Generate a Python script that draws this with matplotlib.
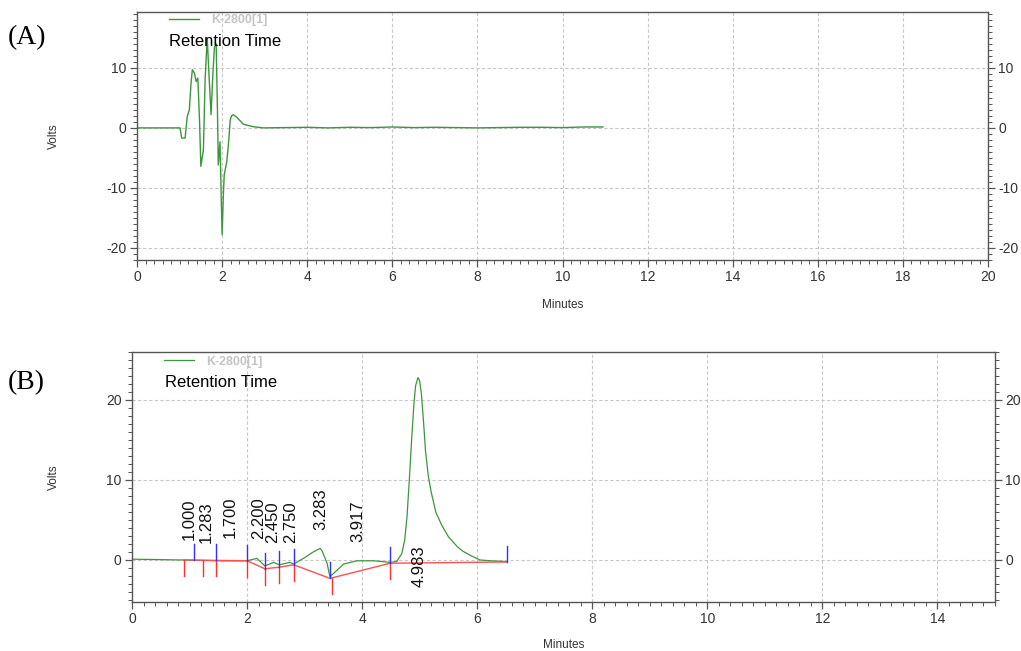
import numpy as np
import matplotlib
matplotlib.use('Agg')
import matplotlib.pyplot as plt
from matplotlib.ticker import MultipleLocator

# panel A trace (minutes, volts)
a_time = [0.0, 1.01, 1.05, 1.13, 1.18, 1.23, 1.27, 1.30, 1.35, 1.39, 1.43, 1.47,
          1.50, 1.56, 1.60, 1.65, 1.69, 1.74, 1.78, 1.82, 1.86, 1.89, 1.91, 1.95,
          1.98, 2.0, 2.03, 2.05, 2.08, 2.11, 2.15, 2.19, 2.22, 2.26, 2.34, 2.5,
          2.73, 2.97, 3.5, 4.0, 4.5, 5.0, 5.5, 6.0, 6.5, 7.0, 7.5, 8.0, 8.5, 9.0,
          9.5, 10.0, 10.5, 10.95]
a_volts = [0.0, 0.0, -1.7, -1.7, 1.9, 3.0, 7.5, 9.7, 9.1, 7.7, 8.3, 1.0,
           -6.4, -3.7, 8.0, 15.0, 9.0, 2.2, 8.6, 13.5, 14.0, 3.0, -6.2, -2.3,
           -12.0, -17.8, -11.0, -7.8, -6.7, -5.6, -2.6, 1.3, 2.0, 2.2, 1.8, 0.6,
           0.2, 0.0, 0.05, 0.1, 0.0, 0.1, 0.05, 0.15, 0.05, 0.1, 0.05, 0.0, 0.05,
           0.1, 0.1, 0.05, 0.15, 0.15]

# panel B trace
b_time = [0.0, 0.89, 1.5, 2.0, 2.17, 2.23, 2.31, 2.46, 2.56, 2.74, 2.81, 2.98,
          3.15, 3.27, 3.30, 3.39, 3.44, 3.53, 3.68, 3.91, 4.2, 4.49, 4.6, 4.69,
          4.74, 4.78, 4.82, 4.86, 4.90, 4.93, 4.97, 5.0, 5.03, 5.07, 5.10, 5.15,
          5.20, 5.28, 5.38, 5.50, 5.65, 5.75, 5.90, 6.05, 6.23, 6.52]
b_volts = [0.1, 0.0, -0.1, -0.1, 0.2, -0.2, -0.75, -0.3, -0.6, -0.3, -0.5, 0.2,
           1.0, 1.45, 1.2, -0.4, -2.1, -1.5, -0.5, -0.1, -0.1, -0.3, -0.2, 0.8,
           2.5, 5.4, 10.0, 15.0, 19.5, 21.8, 22.8, 22.4, 20.8, 17.0, 13.75, 10.5,
           8.5, 6.0, 4.4, 2.9, 1.7, 1.1, 0.5, 0.0, -0.1, -0.2]

# integration baseline
base_time = [0.90, 2.0, 2.31, 2.56, 2.81, 3.44, 4.49, 6.52]
base_volts = [0.0, -0.1, -1.1, -0.9, -0.6, -2.3, -0.4, -0.25]

# peak start (red) / end (blue) event marks
start_marks = [0.90, 1.23, 1.46, 2.0, 2.31, 2.56, 2.81, 3.47, 4.49]
end_marks = [1.08, 1.46, 2.0, 2.31, 2.56, 2.81, 3.44, 4.49, 6.52]

# retention time labels
rt_labels = ['1.000', '1.283', '1.700', '2.200', '2.450', '2.750', '3.283', '3.917', '4.983']
rt_label_y = [2.5, 2.1, 2.7, 2.6, 2.1, 2.1, 3.75, 2.2, -3.4]

green = '#3c963c'
tick_col = '#333333'
plt.rcParams['font.family'] = ['Liberation Sans', 'DejaVu Sans']
plt.rcParams['axes.unicode_minus'] = False

fig = plt.figure(figsize=(10.21, 6.51), dpi=100)
axA = fig.add_axes([0.1342, 0.6006, 0.8335, 0.381])
axB = fig.add_axes([0.1293, 0.0753, 0.8452, 0.384])


def style(ax, xmax, ylim, xmaj, ymaj, labelx, labely):
    ax.set_xlim(0, xmax)
    ax.set_ylim(*ylim)
    ax.xaxis.set_major_locator(MultipleLocator(xmaj))
    ax.xaxis.set_minor_locator(MultipleLocator(0.2))
    ax.yaxis.set_major_locator(MultipleLocator(ymaj))
    ax.yaxis.set_minor_locator(MultipleLocator(1))
    ax.tick_params(axis='both', which='both', direction='out', colors='#555555',
                   labelcolor=tick_col, labelsize=10, pad=2.5)
    ax.tick_params(axis='y', which='both', right=True, labelright=True)
    ax.tick_params(which='major', length=5, width=0.9)
    ax.tick_params(which='minor', length=3, width=0.7)
    ax.grid(True, which='major', linestyle=(0, (3, 2)), color='#c8c8c8', linewidth=0.8)
    for s in ax.spines.values():
        s.set_color('#555555')
        s.set_linewidth(1.0)
    ax.set_xlabel('Minutes', fontsize=8.5, color=tick_col)
    ax.set_ylabel('Volts', fontsize=8.5, color=tick_col)
    ax.xaxis.set_label_coords(0.5, labely)
    ax.yaxis.set_label_coords(labelx, 0.5)


style(axA, 20, (-22, 19.3), 2, 10, -0.09, -0.157)
style(axB, 15, (-5.25, 26), 2, 10, -0.083, -0.15)

# panel A
lnA, = axA.plot(a_time, a_volts, color=green, lw=1.0, label='K-2800[1]')
axA.legend(handles=[lnA], loc='upper left', bbox_to_anchor=(0.037, 0.99),
           frameon=False, borderaxespad=0, borderpad=0, handlelength=2.4,
           handletextpad=1.0, prop={'size': 9, 'weight': 'bold'},
           labelcolor='#c4c4c4')
axA.text(0.038, 0.879, 'Retention Time', transform=axA.transAxes, fontsize=12,
         va='center', ha='left', color='black')

# panel B
lnB, = axB.plot(b_time, b_volts, color=green, lw=0.9, label='K-2800[1]')
axB.plot(base_time, base_volts, color='#ff5050', lw=1.0)
for t in start_marks:
    yb = np.interp(t, base_time, base_volts)
    axB.plot([t, t], [yb, yb - 2.0], color='#ff3030', lw=1.0)
for t in end_marks:
    yb = np.interp(t, base_time, base_volts)
    axB.plot([t, t], [yb, yb + 2.0], color='#3030ff', lw=1.0)
for lab, yy in zip(rt_labels, rt_label_y):
    axB.text(float(lab), yy, lab, rotation=90, ha='center', va='bottom',
             fontsize=12, color='#111111')
axB.legend(handles=[lnB], loc='upper left', bbox_to_anchor=(0.037, 0.985),
           frameon=False, borderaxespad=0, borderpad=0, handlelength=2.4,
           handletextpad=1.0, prop={'size': 9, 'weight': 'bold'},
           labelcolor='#c4c4c4')
axB.text(0.038, 0.876, 'Retention Time', transform=axB.transAxes, fontsize=12,
         va='center', ha='left', color='black')

fig.text(0.008, 0.9416, '(A)', family='Liberation Serif', fontsize=20,
         va='center', ha='left')
fig.text(0.008, 0.4117, '(B)', family='Liberation Serif', fontsize=20,
         va='center', ha='left')

fig.savefig('out.png', dpi=100)
